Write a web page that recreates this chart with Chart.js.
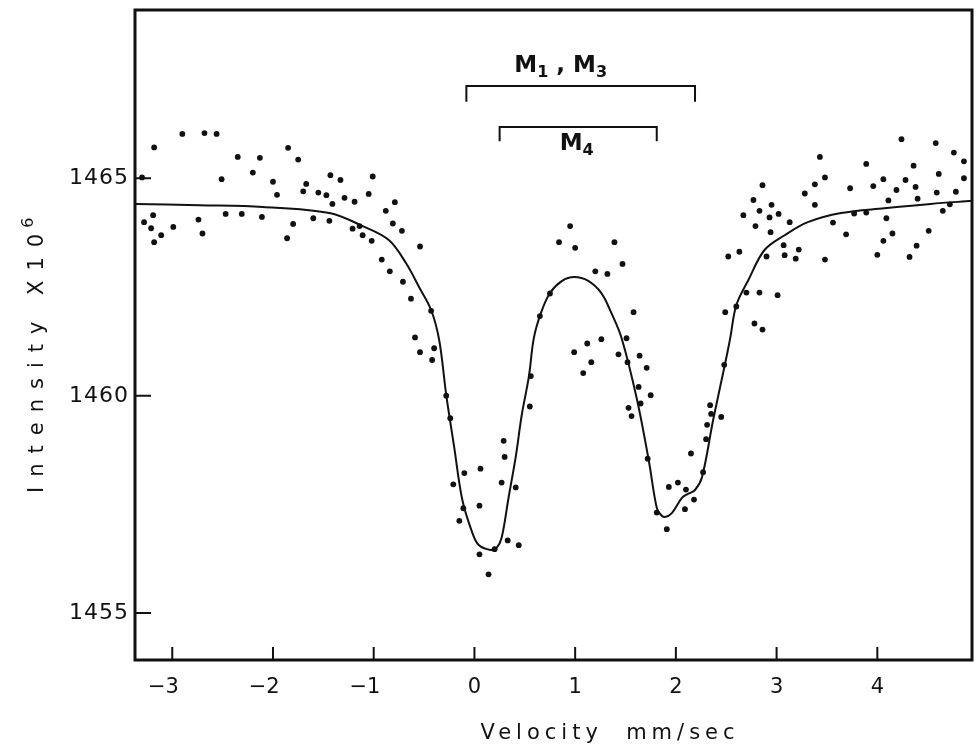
<!DOCTYPE html>
<html>
<head>
<meta charset="utf-8">
<script src="https://cdn.jsdelivr.net/npm/chart.js@4.4.1/dist/chart.umd.min.js"></script>
<style>
  html, body { margin: 0; padding: 0; background: #fff; }
  canvas { display: block; }
</style>
</head>
<body>
<canvas id="spectrum" width="976" height="746"></canvas>
<script>
// measured counts (velocity in mm/sec, intensity x 10^6)
const velocity = [
  -3.30,-3.18,-2.90,-2.68,-2.56,-2.51,-2.35,-2.13,-2.20,-2.00,-1.96,-1.85,-1.75,-1.67,-1.70,-1.55,-1.47,-1.43,-1.33,-1.41,
  -1.29,-1.19,-1.05,-1.01,-0.79,-0.88,-0.81,-0.72,-0.54,
  -3.28,-3.19,-3.21,-3.11,-3.18,-2.99,-2.74,-2.70,-2.47,-2.31,-2.11,-1.80,-1.86,-1.60,-1.44,-1.21,-1.14,-1.11,-1.02,-0.92,
  -0.84,-0.71,-0.63,-0.43,-0.59,-0.54,-0.40,-0.42,-0.28,-0.24,-0.21,-0.15,-0.10,-0.11,0.06,0.05,0.05,0.14,0.20,0.29,
  0.30,0.27,0.33,0.44,0.41,0.55,0.56,0.65,0.75,0.95,0.84,1.00,1.39,1.20,1.32,1.47,0.99,1.08,1.12,1.16,
  1.26,1.58,1.51,1.43,1.52,1.64,1.71,1.63,1.65,1.75,1.53,1.56,1.72,1.81,1.93,2.02,1.91,2.10,2.09,2.18,
  2.15,2.27,2.30,2.31,2.35,2.34,2.45,2.48,2.49,2.60,2.78,2.86,
  4.24,4.58,4.76,4.86,3.43,3.89,4.36,3.48,3.38,3.28,2.86,2.77,2.95,2.83,3.02,2.93,2.67,2.79,2.94,3.13,
  3.38,3.73,3.96,4.06,4.28,4.38,4.19,4.11,4.40,4.61,4.59,4.78,4.86,4.72,4.65,3.77,3.89,4.09,3.56,3.69,
  4.06,4.15,4.51,4.39,4.32,4.00,3.48,3.07,3.22,3.19,3.08,2.90,2.63,2.52,2.70,2.83,3.01
];
const intensity = [
  1465.02,1465.71,1466.02,1466.04,1466.02,1464.98,1465.49,1465.47,1465.13,1464.92,1464.62,1465.70,1465.43,1464.87,1464.70,1464.67,1464.61,1465.07,1464.96,1464.41,
  1464.55,1464.46,1464.64,1465.04,1464.45,1464.25,1463.96,1463.79,1463.43,
  1463.99,1464.15,1463.85,1463.69,1463.53,1463.88,1464.05,1463.73,1464.18,1464.18,1464.11,1463.95,1463.62,1464.08,1464.02,1463.84,1463.90,1463.69,1463.56,1463.13,
  1462.86,1462.62,1462.23,1461.95,1461.34,1461.00,1461.09,1460.82,1460.00,1459.48,1457.96,1457.12,1458.22,1457.41,1458.32,1457.47,1456.35,1455.89,1456.47,1458.96,
  1458.59,1458.00,1456.67,1456.56,1457.89,1459.75,1460.45,1461.83,1462.35,1463.90,1463.53,1463.40,1463.53,1462.86,1462.80,1463.03,1461.00,1460.52,1461.20,1460.77,
  1461.30,1461.92,1461.32,1460.95,1460.77,1460.92,1460.64,1460.20,1459.82,1460.01,1459.72,1459.53,1458.55,1457.31,1457.90,1458.00,1456.93,1457.84,1457.39,1457.61,
  1458.67,1458.24,1459.00,1459.33,1459.58,1459.78,1459.51,1460.71,1461.92,1462.05,1461.66,1461.52,
  1465.90,1465.81,1465.59,1465.39,1465.49,1465.33,1465.29,1465.02,1464.86,1464.65,1464.84,1464.50,1464.39,1464.25,1464.18,1464.10,1464.15,1463.90,1463.76,1463.99,
  1464.39,1464.77,1464.82,1464.98,1464.96,1464.80,1464.73,1464.49,1464.53,1465.10,1464.67,1464.69,1465.00,1464.40,1464.25,1464.19,1464.21,1464.08,1463.98,1463.71,
  1463.56,1463.73,1463.79,1463.45,1463.19,1463.24,1463.13,1463.46,1463.36,1463.15,1463.23,1463.20,1463.31,1463.20,1462.37,1462.37,1462.31
];

// fitted curve
const fitVelocity = [
  -3.37,-2.73,-2.10,-1.44,-1.11,-0.85,-0.68,-0.55,-0.43,-0.35,-0.28,-0.20,-0.12,-0.02,0.04,0.16,0.22,0.27,0.34,0.41,
  0.47,0.54,0.59,0.66,0.75,0.87,0.99,1.13,1.26,1.36,1.46,1.61,1.73,1.81,1.85,1.89,1.96,2.06,2.12,2.19,
  2.26,2.37,2.49,2.54,2.60,2.72,2.88,3.08,3.31,3.64,4.07,4.53,4.94
];
const fitIntensity = [
  1464.41,1464.38,1464.34,1464.20,1463.90,1463.58,1463.05,1462.50,1461.97,1461.28,1460.02,1458.80,1457.60,1456.84,1456.57,1456.45,1456.50,1456.73,1457.67,1458.59,
  1459.56,1460.43,1461.33,1461.90,1462.36,1462.64,1462.73,1462.64,1462.36,1461.90,1461.33,1459.95,1458.52,1457.42,1457.26,1457.21,1457.30,1457.65,1457.74,1457.83,
  1458.13,1459.44,1460.75,1461.33,1462.08,1462.66,1463.35,1463.69,1463.99,1464.20,1464.31,1464.41,1464.48
];

const xTicks = [-3, -2, -1, 0, 1, 2, 3, 4];
const yTicks = [1455, 1460, 1465];
const xRange = [-3.37, 4.94];
const yRange = [1453.92, 1468.87];

// line positions marked above the spectrum (data units)
const brackets = [
  { from: -0.08, to: 2.19, level: 1467.12, foot: 1466.76 },
  { from: 0.25, to: 1.81, level: 1466.18, foot: 1465.85 }
];
const bracketLabels = [
  { parts: [['M', 0], ['1', 1], [' , ', 0], ['M', 0], ['3', 1]], x: 0.856, y: 1467.44 },
  { parts: [['M', 0], ['4', 1]], x: 1.015, y: 1465.65 }
];

const ink = '#111';
const face = 'DejaVu Sans';

const frame = {
  id: 'frame',
  afterDraw(chart) {
    const { ctx, chartArea: a } = chart;
    const x = chart.scales.x, y = chart.scales.y;
    ctx.save();
    ctx.strokeStyle = ink;
    ctx.fillStyle = ink;

    // box
    ctx.lineWidth = 3;
    ctx.strokeRect(a.left, a.top, a.right - a.left, a.bottom - a.top);

    // inward ticks
    ctx.lineWidth = 2;
    ctx.beginPath();
    xTicks.forEach(v => {
      const px = x.getPixelForValue(v);
      ctx.moveTo(px, a.bottom);
      ctx.lineTo(px, a.bottom - 13);
    });
    yTicks.forEach(v => {
      const py = y.getPixelForValue(v);
      ctx.moveTo(a.left, py);
      ctx.lineTo(a.left + 16, py);
    });
    ctx.stroke();

    // x tick labels: digit centred on the tick, minus hangs left
    ctx.font = '21px ' + face;
    ctx.textAlign = 'right';
    ctx.textBaseline = 'alphabetic';
    xTicks.forEach(v => {
      const digits = String(Math.abs(v));
      const w = ctx.measureText(digits).width;
      const label = (v < 0 ? '\u2212' : '') + digits;
      ctx.fillText(label, x.getPixelForValue(v) + w / 2, a.bottom + 33);
    });

    // y tick labels
    ctx.font = '22px ' + face;
    ctx.letterSpacing = '1px';
    yTicks.forEach(v => {
      ctx.fillText(String(v), a.left - 6, y.getPixelForValue(v) + 6);
    });

    // x title
    ctx.font = '21px ' + face;
    ctx.letterSpacing = '5px';
    ctx.textAlign = 'center';
    ctx.fillText('Velocity  mm/sec', 610, 739);

    // y title, rotated, with superscript
    ctx.save();
    ctx.translate(43, 493);
    ctx.rotate(-Math.PI / 2);
    ctx.textAlign = 'left';
    ctx.font = '21px ' + face;
    ctx.letterSpacing = '10px';
    const main = 'Intensity X10';
    ctx.fillText(main, 0, 0);
    const mw = ctx.measureText(main).width;
    ctx.font = '16px ' + face;
    ctx.fillText('6', mw - 4, -10);
    ctx.restore();
    ctx.letterSpacing = '0px';

    // brackets
    ctx.lineWidth = 2;
    brackets.forEach(b => {
      const x0 = x.getPixelForValue(b.from), x1 = x.getPixelForValue(b.to);
      const yl = y.getPixelForValue(b.level), yf = y.getPixelForValue(b.foot);
      ctx.beginPath();
      ctx.moveTo(x0, yf);
      ctx.lineTo(x0, yl);
      ctx.lineTo(x1, yl);
      ctx.lineTo(x1, yf);
      ctx.stroke();
    });

    // bracket labels with subscripts
    ctx.textAlign = 'left';
    const bigFont = 'bold 23px ' + face, subFont = 'bold 16px ' + face;
    bracketLabels.forEach(l => {
      let total = 0;
      l.parts.forEach(([t, sub]) => {
        ctx.font = sub ? subFont : bigFont;
        total += ctx.measureText(t).width;
      });
      let cx = x.getPixelForValue(l.x) - total / 2;
      const base = y.getPixelForValue(l.y);
      l.parts.forEach(([t, sub]) => {
        ctx.font = sub ? subFont : bigFont;
        ctx.fillText(t, cx, sub ? base + 5 : base);
        cx += ctx.measureText(t).width;
      });
    });

    ctx.restore();
  }
};

const points = velocity.map((v, i) => ({ x: v, y: intensity[i] }));
const fit = fitVelocity.map((v, i) => ({ x: v, y: fitIntensity[i] }));

new Chart(document.getElementById('spectrum'), {
  type: 'scatter',
  data: {
    datasets: [
      {
        label: 'fit',
        type: 'line',
        data: fit,
        borderColor: ink,
        borderWidth: 2,
        pointRadius: 0,
        tension: 0.35,
        fill: false
      },
      {
        label: 'counts',
        data: points,
        backgroundColor: ink,
        borderWidth: 0,
        pointRadius: 2.9
      }
    ]
  },
  options: {
    responsive: false,
    animation: false,
    devicePixelRatio: 1,
    layout: { padding: { top: 10, right: 2, left: 0, bottom: 0 } },
    plugins: { legend: { display: false }, tooltip: { enabled: false } },
    scales: {
      x: {
        type: 'linear',
        min: xRange[0],
        max: xRange[1],
        afterBuildTicks: s => { s.ticks = xTicks.map(v => ({ value: v })); },
        afterFit: s => { s.height = 86; },
        grid: { display: false, drawTicks: false },
        border: { display: false },
        ticks: { display: false }
      },
      y: {
        type: 'linear',
        min: yRange[0],
        max: yRange[1],
        afterBuildTicks: s => { s.ticks = yTicks.map(v => ({ value: v })); },
        afterFit: s => { s.width = 135; },
        grid: { display: false, drawTicks: false },
        border: { display: false },
        ticks: { display: false }
      }
    }
  },
  plugins: [frame]
});
</script>
</body>
</html>
